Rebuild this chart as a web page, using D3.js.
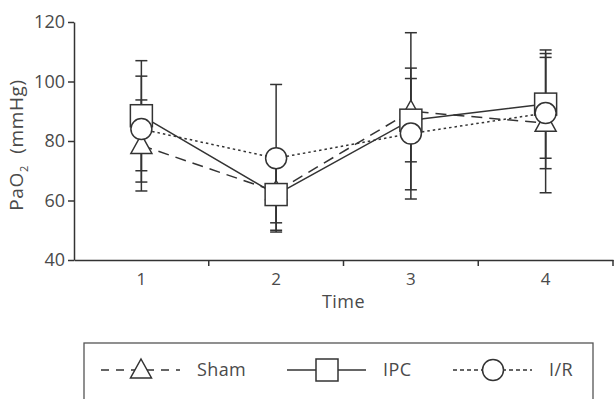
<!DOCTYPE html>
<html>
<head>
<meta charset="utf-8">
<script src="https://cdn.jsdelivr.net/npm/d3@7"></script>
<style>
body { margin: 0; background: #fff; }
text { font-family: "Open Sans", "DejaVu Sans", sans-serif; fill: #4a4a4a; }
</style>
</head>
<body>
<script>
// data (mean and SD of PaO2, mmHg)
const times = [1, 2, 3, 4];
const shamMean = [78.5, 63, 90, 86];
const shamSD = [15.3, 10.5, 26.4, 23.4];
const ipcMean = [88.5, 62, 87, 92.4];
const ipcSD = [18.5, 12, 14, 18.2];
const irMean = [84, 74.2, 82.5, 89.4];
const irSD = [17.8, 24.8, 22, 18.7];
const yTicks = [40, 60, 80, 100, 120];
const seriesNames = ["Sham", "IPC", "I/R"];

const width = 614, height = 399;
const plotLeft = 74, plotRight = 613, plotTop = 22, plotBottom = 260;
const ink = "#333";

const series = [
	{ name: seriesNames[0], mean: shamMean, sd: shamSD, dash: "11,7", legendDash: "8,7", shape: "triangle" },
	{ name: seriesNames[1], mean: ipcMean, sd: ipcSD, dash: null, legendDash: null, shape: "square" },
	{ name: seriesNames[2], mean: irMean, sd: irSD, dash: "2.5,3", legendDash: "4,3", shape: "circle" }
];

let xScale = d3.scaleBand()
	.domain(times)
	.range([plotLeft, plotRight]);
let xc = d => xScale(d) + xScale.bandwidth() / 2;

let yScale = d3.scaleLinear()
	.domain([40, 120])
	.range([plotBottom, plotTop]);

let svg = d3.select("body")
	.append("svg")
	.attr("width", width)
	.attr("height", height);

// draw a marker shape centred at 0,0
function marker(g, shape) {
	if (shape == "square") {
		g.append("rect").attr("x", -11).attr("y", -11).attr("width", 22).attr("height", 22);
	} else if (shape == "circle") {
		g.append("circle").attr("r", 10.5);
	} else {
		g.append("path").attr("d", "M0,-11L10.5,8L-10.5,8Z");
	}
	g.selectAll("*")
		.attr("fill", "#fff")
		.attr("stroke", ink)
		.attr("stroke-width", 1.5);
}

// y axis
let yAxis = svg.append("g")
	.attr("transform", `translate(${plotLeft},0)`)
	.call(d3.axisLeft(yScale).tickValues(yTicks).tickSize(6).tickSizeOuter(0).tickPadding(3));
yAxis.selectAll("text").style("font-size", "18px").attr("fill", "#4a4a4a");

// x axis (labels at centres, ticks at the band edges)
let xAxis = svg.append("g")
	.attr("transform", `translate(0,${plotBottom})`)
	.call(d3.axisBottom(xScale).tickSize(0).tickSizeOuter(0).tickPadding(13));
xAxis.selectAll("text").style("font-size", "17px").attr("fill", "#4a4a4a");
xAxis.selectAll(".edge")
	.data(times)
	.enter()
	.append("line")
	.attr("x1", d => xScale(d) + xScale.bandwidth())
	.attr("x2", d => xScale(d) + xScale.bandwidth())
	.attr("y1", 0)
	.attr("y2", 6);
svg.selectAll(".domain, .tick line, line").attr("stroke", ink).attr("stroke-width", 1.5);

// axis titles
svg.append("text")
	.attr("x", (plotLeft + plotRight) / 2)
	.attr("y", 308)
	.attr("text-anchor", "middle")
	.style("font-size", "18px")
	.style("letter-spacing", "0.5px")
	.text("Time");

let ylab = svg.append("text")
	.attr("transform", `translate(23,${(plotTop + plotBottom) / 2 + 4}) rotate(-90)`)
	.attr("text-anchor", "middle")
	.style("font-size", "19px")
	.style("letter-spacing", "0.6px");
ylab.append("tspan").text("PaO");
ylab.append("tspan").attr("dy", 5).style("font-size", "11px").text("2");
ylab.append("tspan").attr("dy", -5).attr("dx", 6).text(" (mmHg)");

// lines and error bars
let line = d3.line()
	.x((d, i) => xc(times[i]))
	.y(d => yScale(d));

series.forEach(s => {
	svg.append("path")
		.attr("d", line(s.mean))
		.attr("fill", "none")
		.attr("stroke", ink)
		.attr("stroke-width", 1.5)
		.attr("stroke-dasharray", s.dash);

	let bars = svg.append("g");
	s.mean.forEach((m, i) => {
		let x = xc(times[i]);
		let lo = yScale(m - s.sd[i]), hi = yScale(m + s.sd[i]);
		bars.append("line").attr("x1", x).attr("x2", x).attr("y1", lo).attr("y2", hi);
		bars.append("line").attr("x1", x - 6).attr("x2", x + 6).attr("y1", lo).attr("y2", lo);
		bars.append("line").attr("x1", x - 6).attr("x2", x + 6).attr("y1", hi).attr("y2", hi);
	});
	bars.selectAll("line").attr("stroke", ink).attr("stroke-width", 1.5);
});

// markers on top
series.forEach(s => {
	s.mean.forEach((m, i) => {
		let g = svg.append("g").attr("transform", `translate(${xc(times[i])},${yScale(m)})`);
		marker(g, s.shape);
	});
});

// legend
svg.append("rect")
	.attr("x", 84).attr("y", 343)
	.attr("width", 509).attr("height", 80)
	.attr("fill", "none")
	.attr("stroke", "#555")
	.attr("stroke-width", 1.3);

let legendX = [101, 287, 453];
series.forEach((s, i) => {
	let g = svg.append("g").attr("transform", `translate(${legendX[i]},370)`);
	g.append("line")
		.attr("x1", 0).attr("x2", 79)
		.attr("stroke", ink)
		.attr("stroke-width", 1.5)
		.attr("stroke-dasharray", s.legendDash);
	let m = g.append("g").attr("transform", "translate(40,0)");
	marker(m, s.shape);
	g.append("text")
		.attr("x", 96)
		.attr("y", 6)
		.style("font-size", "18px")
		.style("letter-spacing", "0.4px")
		.text(s.name);
});
</script>
</body>
</html>
